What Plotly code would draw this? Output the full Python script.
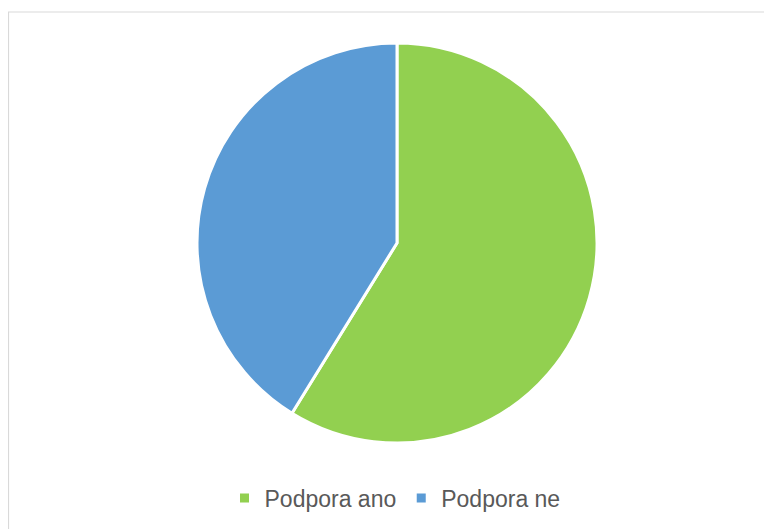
import plotly.graph_objects as go

labels = ["Podpora ano", "Podpora ne"]
values = [58.8, 41.2]
colors = ["#92D050", "#5B9BD5"]

W, H = 764, 521  # page has an 8px body margin
fig = go.Figure()
fig.add_trace(go.Pie(
    labels=labels, values=values, sort=False, direction="clockwise", rotation=0,
    marker=dict(colors=colors, line=dict(color="white", width=3)),
    textinfo="none", hoverinfo="label+percent", showlegend=False,
    domain=dict(x=[189/W, 589/W], y=[1-435/H, 1-35/H]),
))
for lab, col in zip(labels, colors):
    fig.add_trace(go.Scatter(x=[None], y=[None], mode="markers", name=lab,
                             marker=dict(symbol="square", size=9, color=col),
                             showlegend=True, hoverinfo="skip"))
fig.add_shape(type="rect", xref="paper", yref="paper",
              x0=0.5/W, x1=1.05, y0=-0.05, y1=1-4/H,
              line=dict(color="#D9D9D9", width=1.2), fillcolor="rgba(0,0,0,0)")
fig.update_layout(
    width=W, height=H, margin=dict(l=0, r=0, t=0, b=0),
    paper_bgcolor="white", plot_bgcolor="white",
    xaxis=dict(visible=False), yaxis=dict(visible=False),
    showlegend=True,
    legend=dict(orientation="h", x=387/W, xanchor="center", y=1-490/H, yanchor="middle",
                font=dict(family="Liberation Sans", size=23, color="#595959"),
                itemwidth=30, traceorder="normal", bgcolor="rgba(0,0,0,0)"),
)
fig.write_html("out.html")
